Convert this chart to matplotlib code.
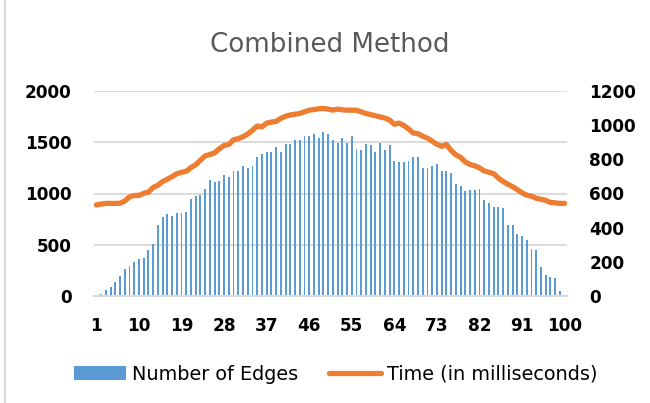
import numpy as np
import matplotlib
matplotlib.use("Agg")
import matplotlib.pyplot as plt
from matplotlib.lines import Line2D

# categories 1..100
runs = list(range(1, 101))

# number of edges (left axis)
edges = [0, 16, 59, 85, 134, 192, 261, 290, 329, 359,
         368, 447, 505, 694, 769, 799, 779, 808, 808, 818,
         945, 975, 985, 1043, 1131, 1112, 1121, 1180, 1161, 1219,
         1219, 1268, 1249, 1268, 1356, 1386, 1405, 1405, 1454, 1405,
         1483, 1483, 1522, 1522, 1562, 1562, 1581, 1542, 1601, 1581,
         1522, 1493, 1542, 1493, 1562, 1434, 1425, 1483, 1474, 1405,
         1493, 1425, 1474, 1317, 1307, 1307, 1317, 1356, 1356, 1249,
         1249, 1268, 1288, 1219, 1219, 1200, 1092, 1073, 1024, 1033,
         1033, 1043, 936, 906, 867, 867, 857, 691, 691, 603,
         584, 544, 456, 447, 280, 202, 183, 173, 46, 0]

# time in ms (right axis)
time_ms = [533, 538, 542, 542, 542, 543, 556, 580, 588, 589,
           601, 608, 635, 648, 670, 684, 698, 716, 724, 730,
           752, 768, 795, 820, 828, 838, 862, 881, 887, 915,
           921, 932, 948, 970, 995, 990, 1012, 1018, 1022, 1040,
           1052, 1060, 1064, 1068, 1078, 1088, 1091, 1096, 1098, 1094,
           1088, 1094, 1090, 1088, 1088, 1087, 1078, 1068, 1062, 1055,
           1048, 1042, 1030, 1005, 1012, 998, 978, 954, 950, 935,
           924, 906, 888, 876, 887, 852, 826, 812, 785, 770,
           762, 750, 732, 724, 716, 690, 670, 654, 640, 622,
           604, 590, 584, 572, 566, 560, 548, 545, 542, 542]

xticks = [1, 10, 19, 28, 37, 46, 55, 64, 73, 82, 91, 100]

blue = "#5B9BD5"
orange = "#ED7D31"
grid = "#D9D9D9"

fig = plt.figure(figsize=(6.5, 4.03), dpi=100)
ax = fig.add_axes([94/650, 1-296/403, (567-94)/650, (296-91)/403])
ax2 = ax.twinx()

ax.bar(runs, edges, width=0.4, color=blue, zorder=2, label="Number of Edges")
ax2.plot(runs, time_ms, color=orange, linewidth=3.8, solid_capstyle="round",
         solid_joinstyle="round", label="Time (in milliseconds)")

ax.set_xlim(0.5, 100.5)
ax.set_ylim(0, 2000)
ax.set_yticks(np.arange(0, 2001, 500))
ax2.set_ylim(0, 1200)
ax2.set_yticks(np.arange(0, 1201, 200))
ax.set_xticks(xticks)

ax.yaxis.grid(True, color=grid, linewidth=1.3, zorder=0)
ax.set_axisbelow(True)
for a in (ax, ax2):
    for s in a.spines.values():
        s.set_visible(False)
ax.spines["bottom"].set_visible(True)
ax.spines["bottom"].set_color(grid)
ax.spines["bottom"].set_linewidth(1.5)

ax.tick_params(axis="both", length=0, labelsize=12.2, colors="black")
ax.tick_params(axis="y", pad=16)
ax.tick_params(axis="x", pad=15)
ax2.tick_params(axis="y", length=0, labelsize=12.2, pad=16)
for lab in ax.get_xticklabels() + ax.get_yticklabels() + ax2.get_yticklabels():
    lab.set_fontweight("bold")

fig.text(330/650, 1-45/403, "Combined Method", ha="center", va="center",
         fontsize=18.8, color="#595959")

h1, l1 = ax.get_legend_handles_labels()
h2, l2 = ax2.get_legend_handles_labels()
fig.legend(h1 + h2, l1 + l2, loc="center", bbox_to_anchor=(336/650, 1-374/403),
           ncol=2, frameon=False, fontsize=13.9, handlelength=2.7,
           handletextpad=0.3, columnspacing=1.6)

fig.add_artist(Line2D([5/650, 5/650], [0, 1], color=grid, linewidth=1.5))

fig.savefig("out.png", dpi=100)
